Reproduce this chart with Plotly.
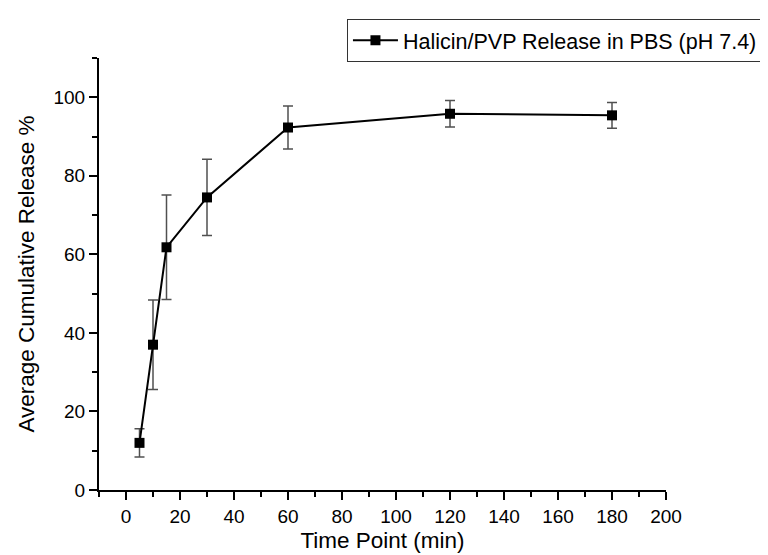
import plotly.graph_objects as go

time_min = [5, 10, 15, 30, 60, 120, 180]
release_pct = [12.0, 37.0, 61.8, 74.5, 92.3, 95.8, 95.4]
release_err = [3.6, 11.4, 13.3, 9.7, 5.5, 3.4, 3.3]
series_name = "Halicin/PVP Release in PBS (pH 7.4)"

FONT = "Arial, 'Liberation Sans', sans-serif"

fig = go.Figure()
fig.add_trace(go.Scatter(
    x=time_min, y=release_pct, name=series_name,
    mode="lines+markers",
    line=dict(color="black", width=2),
    marker=dict(symbol="square", size=10, color="black"),
    error_y=dict(type="data", array=release_err, visible=True,
                 color="#505050", thickness=1.5, width=5),
    showlegend=True,
))

axis_common = dict(
    showline=True, linecolor="black", linewidth=2,
    ticks="outside", ticklen=8, tickwidth=2, tickcolor="black",
    showgrid=False, zeroline=False, mirror=False, automargin=False,
    tickfont=dict(family=FONT, size=19, color="black"),
)

fig.update_layout(
    width=768, height=555,
    margin=dict(l=91, r=110, t=50, b=73, autoexpand=False),
    paper_bgcolor="white", plot_bgcolor="white",
    font=dict(family=FONT, color="black"),
    xaxis=dict(range=[-10, 200], tick0=0, dtick=20,
               minor=dict(dtick=10, tick0=0, ticklen=5, tickwidth=2, tickcolor="black", ticks="outside"),
               title=dict(text="Time Point (min)", font=dict(family=FONT, size=22.5), standoff=6),
               **axis_common),
    yaxis=dict(range=[0, 110], tick0=0, dtick=20,
               minor=dict(dtick=10, tick0=0, ticklen=5, tickwidth=2, tickcolor="black", ticks="outside"),
               title=dict(text="Average Cumulative Release %", font=dict(family=FONT, size=22.5), standoff=13),
               **axis_common),
    legend=dict(x=1.171, xanchor="right", y=1.091, yanchor="top",
                bordercolor="#333333", borderwidth=1, bgcolor="white",
                font=dict(family=FONT, size=21.5, color="black"),
                itemwidth=45, tracegroupgap=0),
)

fig.write_html("out.html")
